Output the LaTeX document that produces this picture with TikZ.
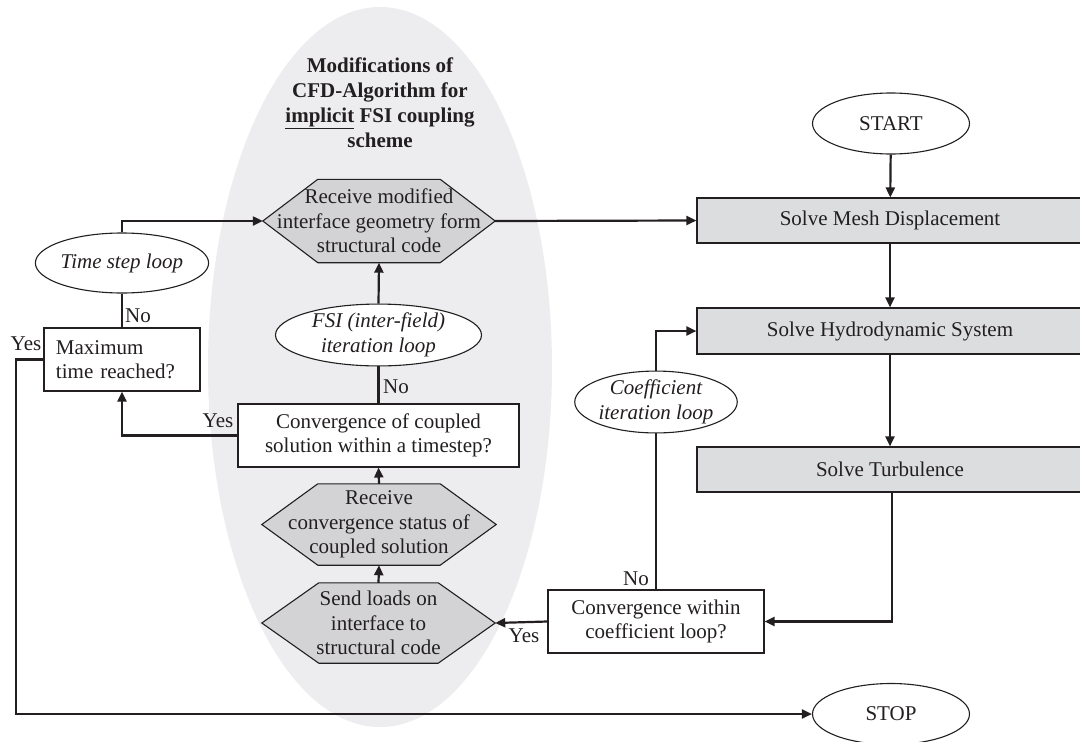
\documentclass[tikz,border=0pt]{standalone}
\usepackage{fontspec}
\setmainfont{Liberation Serif}
\usetikzlibrary{arrows.meta,shapes.geometric,calc}
\pgfdeclarelayer{background}
\pgfsetlayers{background,main}
\definecolor{ink}{RGB}{35,31,32}
\definecolor{boxgray}{RGB}{220,221,223}
\definecolor{hexgray}{RGB}{211,211,213}
\definecolor{ellgray}{RGB}{237,237,239}
\tikzset{
  every node/.style={font=\fontsize{21}{24.5}\selectfont, text=ink},
  solvebox/.style={rectangle, draw=ink, line width=1.1pt, fill=boxgray, inner sep=0pt},
  askbox/.style={rectangle, draw=ink, line width=1.1pt, fill=white, align=center, inner sep=0pt},
  hexnode/.style={rectangle, align=center, inner sep=0pt},
  hexshape/.style={draw=ink, line width=1.1pt, fill=hexgray, line join=miter},
  oval/.style={ellipse, draw=ink, line width=1.1pt, fill=white, align=center, inner sep=0pt},
  flow/.style={draw=ink, line width=2.2pt, -{Triangle[length=10pt,width=9pt]}},
  link/.style={draw=ink, line width=2.2pt},
  tag/.style={inner sep=0pt}
}
\begin{document}
\begin{tikzpicture}[x=1pt,y=-1pt]
\useasboundingbox (0,0) rectangle (1080,742);

% shaded region holding the modified CFD steps
\begin{pgfonlayer}{background}
  \fill[ellgray] (380,367) ellipse [x radius=172pt, y radius=360pt];
\end{pgfonlayer}

\node[align=center, inner sep=0pt, font=\fontsize{21}{25}\selectfont\bfseries] (title) at (380,103)
  {Modifications of\\CFD-Algorithm for\\\underline{implicit} FSI coupling\\scheme};

% hexagonal exchange steps
\node[hexnode, minimum width=232pt, minimum height=83pt] (rm) at (379,221)
  {Receive modified\\interface geometry form\\structural code};
\node[hexnode, minimum width=234pt, minimum height=81pt] (rcs) at (379,524.5)
  {Receive\\convergence status of\\coupled solution};
\node[hexnode, minimum width=233pt, minimum height=80pt] (sl) at (378.5,623)
  {Send loads on\\interface to\\structural code};
\begin{pgfonlayer}{background}
  \foreach \h/\d in {rm/55pt, rcs/56pt, sl/57pt}{
    \draw[hexshape] (\h.west) -- ([xshift=\d]\h.north west) -- ([xshift=-\d]\h.north east)
      -- (\h.east) -- ([xshift=-\d]\h.south east) -- ([xshift=\d]\h.south west) -- cycle;
  }
\end{pgfonlayer}

% decision boxes
\node[askbox, minimum width=281pt, minimum height=63pt] (ccs) at (378.5,435.5)
  {Convergence of coupled\\solution within a timestep?};
\node[askbox, minimum width=156pt, minimum height=63pt, text width=132pt, align=left,
      inner xsep=12pt] (maxt) at (122,359.5) {Maximum\\time reached?};
\node[askbox, minimum width=216pt, minimum height=63pt] (cwc) at (656,621.5)
  {Convergence within\\coefficient loop?};

% loop labels and terminals
\node[oval, minimum width=206pt, minimum height=60pt, font=\fontsize{21}{24.5}\selectfont\itshape] (fsi) at (378.5,335)
  {FSI (inter-field)\\iteration loop};
\node[oval, minimum width=157pt, minimum height=60pt, font=\fontsize{21}{24.5}\selectfont\itshape] (tsl) at (122,263)
  {Time step loop};
\node[oval, minimum width=156pt, minimum height=60pt, font=\fontsize{21}{24.5}\selectfont\itshape] (cil) at (656,402)
  {Coefficient\\iteration loop};
\node[oval, minimum width=157pt, minimum height=61pt] (start) at (891,123.5) {START};
\node[oval, minimum width=157pt, minimum height=61pt] (stop) at (891,714) {STOP};

% CFD solver steps
\node[solvebox, minimum width=386pt, minimum height=45pt] (smd) at (890,220.5) {Solve Mesh Displacement};
\node[solvebox, minimum width=386pt, minimum height=46pt] (shs) at (890,331) {Solve Hydrodynamic System};
\node[solvebox, minimum width=386pt, minimum height=45pt] (stb) at (890,469.5) {Solve Turbulence};

\coordinate (lx) at (16,0);

% connectors
\draw[flow] (start) -- (smd);
\draw[flow] (smd) -- (shs);
\draw[flow] (shs) -- (stb);
\draw[flow] ([xshift=2pt]stb.south) |- (cwc.east);
\draw[link] (cwc.north) -- (cil.south);
\draw[flow] (cil.north) |- (shs.west);
\draw[flow] (cwc.west) -- (sl.east);
\draw[flow] (sl.north) -- (rcs.south);
\draw[flow] (rcs.north) -- (ccs.south);
\draw[link] (ccs.north) -- (fsi.south);
\draw[flow] (fsi.north) -- (rm.south);
\draw[flow] (ccs.west) -| (maxt.south);
\draw[link] (maxt.north) -- (tsl.south);
\draw[flow] (tsl.north) |- (rm.west);
\draw[flow] (rm.east) -- (smd.west);
\draw[flow] (maxt.west) -- (maxt.west -| lx) |- (stop.west);

% branch labels
\node[tag] (n1) at (138,316) {No};
\node[tag] (y1) at (26,344) {Yes};
\node[tag] (y2) at (218,421) {Yes};
\node[tag] (n2) at (396,387) {No};
\node[tag] (n3) at (636,579) {No};
\node[tag] (y3) at (524,636) {Yes};
\end{tikzpicture}
\end{document}
